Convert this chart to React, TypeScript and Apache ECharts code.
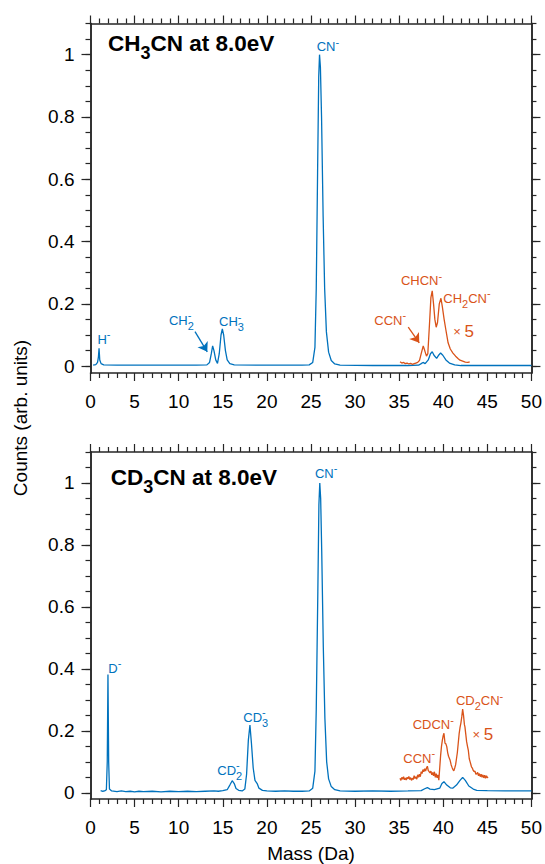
import React, { useEffect, useRef } from 'react';
import * as echarts from 'echarts';

const BLUE = '#0072BD';
const ORANGE = '#D95319';
const AXIS = '#262626';
const FONT = '"Liberation Sans", Arial, Helvetica, sans-serif';

// Axis ticks
const X_MIN = 0;
const X_MAX = 50;
const X_STEP = 5;
const Y_MAJOR = [0, 0.2, 0.4, 0.6, 0.8, 1];
const Y_MINOR = [0, 0.05, 0.1, 0.15, 0.2, 0.25, 0.3, 0.35, 0.4, 0.45, 0.5, 0.55, 0.6, 0.65, 0.7, 0.75, 0.8, 0.85, 0.9, 0.95, 1, 1.05, 1.1];
const Y_MAX = 1.1;
const Y_MIN_TOP = -0.022;
const Y_MIN_BOT = -0.02;

// CH3CN spectrum (mass Da, normalised counts)
const topBlue: number[][] = [
  [0.3, 0.003], [0.6, 0.005], [0.8, 0.012], [0.9, 0.03], [0.97, 0.057], [1.05, 0.02], [1.2, 0.008], [1.5, 0.004],
  [3, 0.003], [6, 0.003], [9, 0.003], [12, 0.003], [13.2, 0.004], [13.5, 0.012], [13.7, 0.04], [13.85, 0.065],
  [14.0, 0.05], [14.2, 0.02], [14.4, 0.009], [14.6, 0.04], [14.8, 0.1], [14.95, 0.12], [15.1, 0.1], [15.3, 0.05],
  [15.5, 0.02], [15.8, 0.008], [16.3, 0.004], [20, 0.003], [24, 0.003], [24.8, 0.004], [25.2, 0.012], [25.45, 0.06],
  [25.6, 0.25], [25.75, 0.62], [25.88, 0.93], [25.97, 1.0], [26.07, 0.96], [26.2, 0.8], [26.38, 0.48], [26.55, 0.25],
  [26.75, 0.11], [27.0, 0.045], [27.3, 0.018], [27.7, 0.007], [28.3, 0.003], [32, 0.002], [36, 0.002], [37.2, 0.003],
  [37.5, 0.008], [37.7, 0.012], [37.95, 0.008], [38.3, 0.02], [38.55, 0.04], [38.75, 0.046], [38.95, 0.035],
  [39.25, 0.025], [39.5, 0.036], [39.7, 0.042], [39.95, 0.035], [40.3, 0.02], [40.7, 0.01], [41.3, 0.004],
  [42, 0.002], [46, 0.002], [50, 0.002],
];

// CH3CN, 35-43 Da region multiplied by 5
const topOrange: number[][] = [
  [35.1, 0.014], [35.3, 0.01], [35.5, 0.012], [35.7, 0.008], [35.9, 0.01], [36.1, 0.007], [36.3, 0.009],
  [36.5, 0.006], [36.7, 0.008], [36.9, 0.01], [37.1, 0.012], [37.3, 0.018], [37.5, 0.04], [37.73, 0.065],
  [37.9, 0.05], [38.1, 0.032], [38.25, 0.04], [38.45, 0.14], [38.6, 0.22], [38.75, 0.242], [38.9, 0.2],
  [39.05, 0.15], [39.2, 0.125], [39.35, 0.14], [39.55, 0.2], [39.74, 0.218], [39.9, 0.19], [40.1, 0.15],
  [40.3, 0.116], [40.55, 0.075], [40.8, 0.055], [41.1, 0.042], [41.4, 0.032], [41.7, 0.024], [41.9, 0.019],
  [42.2, 0.016], [42.5, 0.013], [42.8, 0.012], [43.0, 0.014],
];

// CD3CN spectrum
const botBlue: number[][] = [
  [1.15, 0.007], [1.4, 0.005], [1.6, 0.006], [1.8, 0.01], [1.9, 0.1], [1.98, 0.382], [2.06, 0.1], [2.15, 0.012],
  [2.4, 0.006], [3, 0.004], [3.5, 0.006], [4, 0.004], [4.5, 0.005], [5, 0.003], [5.5, 0.005], [6, 0.004],
  [7, 0.005], [8, 0.003], [9, 0.005], [10, 0.004], [11, 0.005], [12, 0.004], [13, 0.005], [14, 0.006],
  [14.5, 0.005], [15, 0.007], [15.5, 0.01], [15.8, 0.025], [16.07, 0.039], [16.3, 0.03], [16.5, 0.014],
  [16.8, 0.008], [17.2, 0.006], [17.5, 0.012], [17.7, 0.06], [17.9, 0.17], [18.08, 0.219], [18.25, 0.16],
  [18.45, 0.08], [18.65, 0.04], [18.9, 0.03], [19.1, 0.015], [19.5, 0.008], [20, 0.006], [21, 0.005],
  [22, 0.006], [23, 0.005], [24, 0.005], [24.8, 0.006], [25.2, 0.015], [25.45, 0.07], [25.6, 0.27],
  [25.78, 0.65], [25.9, 0.93], [26.0, 1.0], [26.1, 0.95], [26.22, 0.78], [26.4, 0.47], [26.58, 0.24],
  [26.78, 0.1], [27.0, 0.045], [27.3, 0.02], [27.7, 0.01], [28.3, 0.006], [30, 0.005], [32, 0.006],
  [34, 0.005], [36, 0.006], [37.5, 0.007], [37.9, 0.013], [38.2, 0.017], [38.5, 0.012], [39, 0.01],
  [39.6, 0.015], [39.85, 0.03], [40.08, 0.036], [40.4, 0.025], [40.8, 0.016], [41.07, 0.015], [41.5, 0.025],
  [41.9, 0.04], [42.2, 0.05], [42.5, 0.04], [42.9, 0.022], [43.4, 0.012], [43.8, 0.008], [45, 0.007],
  [47, 0.006], [50, 0.006],
];

// CD3CN, 35-45 Da region multiplied by 5
const botOrange: number[][] = [
  [35.1, 0.047], [35.2, 0.04], [35.3, 0.05], [35.4, 0.044], [35.5, 0.052], [35.6, 0.042], [35.7, 0.048],
  [35.8, 0.041], [35.9, 0.05], [36.0, 0.045], [36.1, 0.053], [36.2, 0.043], [36.3, 0.049], [36.4, 0.04],
  [36.5, 0.047], [36.6, 0.043], [36.7, 0.055], [36.8, 0.046], [36.9, 0.052], [37.0, 0.044], [37.1, 0.058],
  [37.2, 0.05], [37.3, 0.06], [37.4, 0.052], [37.5, 0.068], [37.6, 0.062], [37.7, 0.075], [37.8, 0.068],
  [37.9, 0.078], [38.0, 0.07], [38.1, 0.08], [38.2, 0.086], [38.3, 0.072], [38.4, 0.068], [38.5, 0.064],
  [38.6, 0.07], [38.7, 0.058], [38.8, 0.066], [38.9, 0.055], [39.0, 0.068], [39.1, 0.05], [39.2, 0.062],
  [39.3, 0.048], [39.4, 0.058], [39.5, 0.041], [39.6, 0.08], [39.7, 0.12], [39.8, 0.15], [39.9, 0.17],
  [40.0, 0.185], [40.08, 0.192], [40.2, 0.16], [40.3, 0.158], [40.4, 0.149], [40.5, 0.13], [40.6, 0.118],
  [40.77, 0.106], [40.9, 0.09], [41.0, 0.082], [41.1, 0.075], [41.2, 0.071], [41.3, 0.08], [41.4, 0.09],
  [41.5, 0.11], [41.6, 0.13], [41.7, 0.16], [41.8, 0.19], [41.9, 0.21], [42.0, 0.225], [42.1, 0.245],
  [42.2, 0.27], [42.3, 0.25], [42.4, 0.22], [42.46, 0.213], [42.55, 0.19], [42.65, 0.165], [42.75, 0.15],
  [42.84, 0.138], [42.95, 0.11], [43.05, 0.1], [43.2, 0.084], [43.3, 0.08], [43.4, 0.072], [43.5, 0.068],
  [43.6, 0.07], [43.7, 0.06], [43.8, 0.061], [43.9, 0.066], [44.0, 0.055], [44.1, 0.062], [44.2, 0.052],
  [44.3, 0.06], [44.4, 0.05], [44.5, 0.058], [44.6, 0.048], [44.7, 0.057], [44.8, 0.047], [44.9, 0.055],
  [45.0, 0.049], [45.1, 0.05],
];

// Annotations (data coordinates: left edge, vertical centre)
type Lbl = { text: string; x: number; y: number; color: string };
const topLabels: Lbl[] = [
  { text: 'H^-', x: 0.79, y: 0.087, color: BLUE },
  { text: 'CH_2^-', x: 8.9, y: 0.147, color: BLUE },
  { text: 'CH_3^-', x: 14.57, y: 0.143, color: BLUE },
  { text: 'CN^-', x: 25.65, y: 1.026, color: BLUE },
  { text: 'CHCN^-', x: 35.2, y: 0.274, color: ORANGE },
  { text: 'CH_2CN^-', x: 40.0, y: 0.218, color: ORANGE },
  { text: 'CCN^-', x: 32.18, y: 0.148, color: ORANGE },
];
const botLabels: Lbl[] = [
  { text: 'D^-', x: 2.02, y: 0.402, color: BLUE },
  { text: 'CD_2^-', x: 14.38, y: 0.072, color: BLUE },
  { text: 'CD_3^-', x: 17.32, y: 0.244, color: BLUE },
  { text: 'CN^-', x: 25.45, y: 1.032, color: BLUE },
  { text: 'CCN^-', x: 35.47, y: 0.111, color: ORANGE },
  { text: 'CDCN^-', x: 36.53, y: 0.22, color: ORANGE },
  { text: 'CD_2CN^-', x: 41.44, y: 0.297, color: ORANGE },
];
const topTitle = { text: 'CH_3CN at 8.0eV', x: 1.98, y: 1.036 };
const botTitle = { text: 'CD_3CN at 8.0eV', x: 2.29, y: 1.019 };
const topTimes = { x: 41.13, y: 0.111 };
const botTimes = { x: 43.33, y: 0.189 };
const topArrows = [
  { coords: [[11.85, 0.111], [13.24, 0.046]], color: BLUE },
  { coords: [[36.03, 0.125], [37.28, 0.075]], color: ORANGE },
];

const measureCtx = typeof document !== 'undefined' ? document.createElement('canvas').getContext('2d') : null;
function measure(t: string, size: number, bold: boolean) {
  if (!measureCtx) return t.length * size * 0.55;
  measureCtx.font = `${bold ? 'bold ' : ''}${size}px ${FONT}`;
  return measureCtx.measureText(t).width;
}

type Tok = { t: string; k: 'n' | 'sub' | 'sup' };
function parse(s: string): Tok[] {
  const out: Tok[] = [];
  let i = 0;
  while (i < s.length) {
    const c = s[i];
    if (c === '_' || c === '^') {
      out.push({ t: s[i + 1], k: c === '_' ? 'sub' : 'sup' });
      i += 2;
    } else {
      let j = i;
      while (j < s.length && s[j] !== '_' && s[j] !== '^') j++;
      out.push({ t: s.slice(i, j), k: 'n' });
      i = j;
    }
  }
  return out;
}

function buildRich(
  s: string, px: number, py: number, color: string,
  size: number, subSize: number, supSize: number, subDy: number, supDy: number, bold: boolean,
) {
  const toks = parse(s);
  const els: any[] = [];
  let x = px;
  const mk = (t: string, xx: number, yy: number, fs: number) => ({
    type: 'text', x: xx, y: yy, silent: true,
    style: {
      text: t, fill: color, fontSize: fs, fontFamily: FONT, fontWeight: bold ? 'bold' : 'normal',
      align: 'left', verticalAlign: 'middle', textAlign: 'left', textVerticalAlign: 'middle',
    },
  });
  for (let k = 0; k < toks.length; k++) {
    const tk = toks[k];
    if (tk.k === 'n') {
      els.push(mk(tk.t, x, py, size));
      x += measure(tk.t, size, bold);
    } else {
      const fs = tk.k === 'sub' ? subSize : supSize;
      const dy = tk.k === 'sub' ? subDy : supDy;
      els.push(mk(tk.t, x, py + dy, fs));
      let w = measure(tk.t, fs, bold);
      const nx = toks[k + 1];
      if (nx && nx.k !== 'n' && nx.k !== tk.k) {
        const fs2 = nx.k === 'sub' ? subSize : supSize;
        const dy2 = nx.k === 'sub' ? subDy : supDy;
        els.push(mk(nx.t, x, py + dy2, fs2));
        w = Math.max(w, measure(nx.t, fs2, bold));
        k++;
      }
      x += w;
    }
  }
  return els;
}

export default function App() {
  const ref = useRef<HTMLDivElement>(null);
  useEffect(() => {
    if (!ref.current) return;
    const chart = echarts.init(ref.current, null, { renderer: 'svg' });
    const lineStyle = { color: AXIS, width: 1.5 };
    const tickStyle = { color: AXIS, width: 1.2 };
    const mkX = (grid: number, pos: 'top' | 'bottom', labels: boolean) => ({
      type: 'value', gridIndex: grid, position: pos, min: X_MIN, max: X_MAX, interval: X_STEP,
      axisLine: { show: true, onZero: false, lineStyle },
      axisTick: { show: true, inside: false, length: 8, lineStyle: tickStyle },
      minorTick: { show: true, splitNumber: 5, length: 5, lineStyle: tickStyle },
      axisLabel: { show: labels, margin: 19, color: '#000', fontSize: 19, fontFamily: FONT },
      splitLine: { show: false }, minorSplitLine: { show: false },
    });
    const mkY = (grid: number, pos: 'left' | 'right', ymin: number, values: number[], len: number, labels: boolean) => ({
      type: 'value', gridIndex: grid, position: pos, min: ymin, max: Y_MAX,
      axisLine: { show: true, onZero: false, lineStyle },
      axisTick: { show: true, inside: false, length: len, customValues: values, lineStyle: tickStyle },
      axisLabel: { show: labels, customValues: Y_MAJOR, margin: 16, color: '#000', fontSize: 19, fontFamily: FONT },
      splitLine: { show: false },
    });
    const lineSeries = (xi: number, yi: number, data: number[][], color: string, z: number) => ({
      type: 'line', xAxisIndex: xi, yAxisIndex: yi, data, symbol: 'none', showSymbol: false,
      lineStyle: { color, width: 1.3 }, z, silent: true,
    });
    chart.setOption({
      animation: false,
      backgroundColor: '#fff',
      textStyle: { fontFamily: FONT },
      grid: [
        { left: 90.5, top: 23.5, width: 441, height: 349.5 },
        { left: 90.5, top: 452, width: 441, height: 347 },
      ],
      xAxis: [mkX(0, 'bottom', true), mkX(0, 'top', false), mkX(1, 'bottom', true), mkX(1, 'top', false)],
      yAxis: [
        mkY(0, 'left', Y_MIN_TOP, Y_MAJOR, 9, true), mkY(0, 'left', Y_MIN_TOP, Y_MINOR, 5, false),
        mkY(0, 'right', Y_MIN_TOP, Y_MAJOR, 9, false), mkY(0, 'right', Y_MIN_TOP, Y_MINOR, 5, false),
        mkY(1, 'left', Y_MIN_BOT, Y_MAJOR, 9, true), mkY(1, 'left', Y_MIN_BOT, Y_MINOR, 5, false),
        mkY(1, 'right', Y_MIN_BOT, Y_MAJOR, 9, false), mkY(1, 'right', Y_MIN_BOT, Y_MINOR, 5, false),
      ],
      series: [
        lineSeries(0, 0, topBlue, BLUE, 3),
        lineSeries(0, 0, topOrange, ORANGE, 4),
        lineSeries(2, 4, botBlue, BLUE, 3),
        lineSeries(2, 4, botOrange, ORANGE, 4),
        {
          type: 'lines', coordinateSystem: 'cartesian2d', xAxisIndex: 0, yAxisIndex: 0,
          symbol: ['none', 'arrow'], symbolSize: 9, silent: true, z: 5,
          data: topArrows.map((a) => ({ coords: a.coords, lineStyle: { color: a.color, width: 1.3, opacity: 1 } })),
          lineStyle: { width: 1.3, curveness: 0, opacity: 1 },
        },
      ],
    });

    const toPx = (grid: number, x: number, y: number) =>
      chart.convertToPixel(grid === 0 ? { xAxisIndex: 0, yAxisIndex: 0 } : { xAxisIndex: 2, yAxisIndex: 4 }, [x, y]) as number[];

    const graphics: any[] = [];
    const addLabels = (grid: number, labels: Lbl[]) => {
      labels.forEach((l) => {
        const [px, py] = toPx(grid, l.x, l.y);
        graphics.push(...buildRich(l.text, px, py, l.color, 13, 11, 11, 5.4, -5, false));
      });
    };
    addLabels(0, topLabels);
    addLabels(1, botLabels);
    [[0, topTitle], [1, botTitle]].forEach(([g, t]: any) => {
      const [px, py] = toPx(g, t.x, t.y);
      graphics.push(...buildRich(t.text, px, py, '#000', 22.5, 18, 18, 9.5, -9, true));
    });
    [[0, topTimes], [1, botTimes]].forEach(([g, t]: any) => {
      const [px, py] = toPx(g, t.x, t.y);
      graphics.push({
        type: 'text', x: px, y: py, silent: true,
        style: {
          text: '{a|× }{b|5}', fill: ORANGE, align: 'left', verticalAlign: 'middle',
          textAlign: 'left', textVerticalAlign: 'middle',
          rich: {
            a: { fontSize: 13, fontFamily: FONT, fill: ORANGE, color: ORANGE, verticalAlign: 'middle' },
            b: { fontSize: 17, fontFamily: FONT, fill: ORANGE, color: ORANGE, verticalAlign: 'middle' },
          },
        },
      });
    });
    graphics.push({
      type: 'text', x: 20.5, y: 418, rotation: Math.PI / 2, silent: true,
      style: {
        text: 'Counts (arb. units)', fill: '#000', fontSize: 19, fontFamily: FONT,
        align: 'center', verticalAlign: 'middle', textAlign: 'center', textVerticalAlign: 'middle',
      },
    });
    graphics.push({
      type: 'text', x: 311, y: 853, silent: true,
      style: {
        text: 'Mass (Da)', fill: '#000', fontSize: 19, fontFamily: FONT,
        align: 'center', verticalAlign: 'middle', textAlign: 'center', textVerticalAlign: 'middle',
      },
    });
    chart.setOption({ graphic: { elements: graphics } });
    return () => chart.dispose();
  }, []);
  return (
    <div
      ref={ref}
      style={{ position: 'fixed', left: 0, top: 0, width: 545, height: 864, background: '#fff' }}
    />
  );
}
